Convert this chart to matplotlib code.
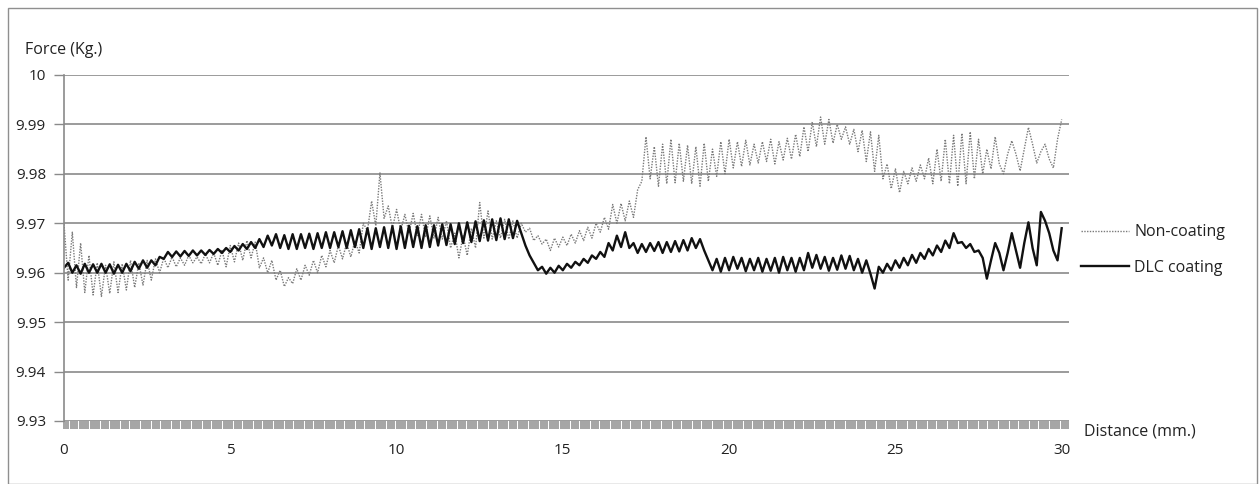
import numpy as np
import matplotlib.pyplot as plt
from matplotlib.ticker import MultipleLocator
from matplotlib.patches import Rectangle

plt.rcParams['font.family'] = ['Open Sans', 'DejaVu Sans']

# distance readings every 0.125 mm, 0 .. 30 mm
distance = np.arange(241) * 0.125

# DLC coating, force in kg (one row per mm)
dlc = [
    9.9610, 9.9620, 9.9600, 9.9615, 9.9598, 9.9618, 9.9600, 9.9617,
    9.9600, 9.9618, 9.9600, 9.9617, 9.9598, 9.9616, 9.9600, 9.9618,
    9.9603, 9.9622, 9.9608, 9.9625, 9.9610, 9.9625, 9.9615, 9.9632,
    9.9628, 9.9642, 9.9632, 9.9643, 9.9633, 9.9644, 9.9634, 9.9645,
    9.9635, 9.9645, 9.9636, 9.9646, 9.9638, 9.9648, 9.9640, 9.9650,
    9.9642, 9.9654, 9.9645, 9.9658, 9.9648, 9.9662, 9.9650, 9.9668,
    9.9652, 9.9675, 9.9655, 9.9678, 9.9650, 9.9676, 9.9648, 9.9678,
    9.9648, 9.9678, 9.9650, 9.9679, 9.9648, 9.9680, 9.9650, 9.9682,
    9.9650, 9.9682, 9.9652, 9.9684, 9.9650, 9.9686, 9.9652, 9.9688,
    9.9650, 9.9690, 9.9648, 9.9690, 9.9652, 9.9692, 9.9650, 9.9694,
    9.9648, 9.9694, 9.9650, 9.9695, 9.9652, 9.9694, 9.9650, 9.9696,
    9.9652, 9.9696, 9.9655, 9.9698, 9.9656, 9.9698, 9.9658, 9.9700,
    9.9660, 9.9702, 9.9662, 9.9704, 9.9664, 9.9706, 9.9665, 9.9708,
    9.9666, 9.9710, 9.9668, 9.9708, 9.9670, 9.9705, 9.9680, 9.9655,
    9.9635, 9.9620, 9.9605, 9.9612, 9.9598, 9.9610, 9.9600, 9.9614,
    9.9605, 9.9618, 9.9610, 9.9622, 9.9615, 9.9628, 9.9620, 9.9635,
    9.9628, 9.9642, 9.9632, 9.9660, 9.9645, 9.9675, 9.9652, 9.9682,
    9.9650, 9.9660, 9.9640, 9.9658, 9.9642, 9.9660, 9.9644, 9.9662,
    9.9640, 9.9662, 9.9642, 9.9664, 9.9643, 9.9666, 9.9645, 9.9670,
    9.9650, 9.9668, 9.9645, 9.9625, 9.9605, 9.9628, 9.9602, 9.9630,
    9.9605, 9.9632, 9.9608, 9.9630, 9.9603, 9.9628, 9.9605, 9.9630,
    9.9602, 9.9628, 9.9604, 9.9630, 9.9600, 9.9632, 9.9605, 9.9630,
    9.9602, 9.9630, 9.9605, 9.9640, 9.9610, 9.9636, 9.9608, 9.9632,
    9.9604, 9.9630, 9.9606, 9.9635, 9.9608, 9.9634, 9.9605, 9.9628,
    9.9600, 9.9625, 9.9598, 9.9568, 9.9612, 9.9600, 9.9618, 9.9605,
    9.9625, 9.9610, 9.9630, 9.9615, 9.9636, 9.9620, 9.9640, 9.9628,
    9.9648, 9.9635, 9.9655, 9.9642, 9.9665, 9.9650, 9.9680, 9.9660,
    9.9662, 9.9650, 9.9658, 9.9642, 9.9645, 9.9630, 9.9588, 9.9625,
    9.9660, 9.9640, 9.9605, 9.9640, 9.9680, 9.9645, 9.9610, 9.9660,
    9.9702, 9.9650, 9.9615, 9.9723, 9.9705, 9.9680, 9.9645, 9.9625,
    9.9690,
]

# Non-coating, force in kg (one row per mm)
non_coating = [
    9.9698, 9.9585, 9.9682, 9.9570, 9.9660, 9.9560, 9.9635, 9.9555,
    9.9620, 9.9552, 9.9615, 9.9558, 9.9622, 9.9560, 9.9618, 9.9565,
    9.9625, 9.9570, 9.9620, 9.9575, 9.9625, 9.9585, 9.9628, 9.9600,
    9.9630, 9.9610, 9.9632, 9.9612, 9.9630, 9.9615, 9.9635, 9.9620,
    9.9632, 9.9618, 9.9638, 9.9620, 9.9640, 9.9615, 9.9645, 9.9612,
    9.9655, 9.9622, 9.9660, 9.9625, 9.9665, 9.9630, 9.9662, 9.9610,
    9.9630, 9.9600, 9.9625, 9.9585, 9.9605, 9.9572, 9.9590, 9.9578,
    9.9608, 9.9585, 9.9615, 9.9595, 9.9625, 9.9600, 9.9635, 9.9612,
    9.9645, 9.9620, 9.9655, 9.9628, 9.9660, 9.9632, 9.9665, 9.9640,
    9.9700, 9.9685, 9.9745, 9.9695, 9.9802, 9.9710, 9.9735, 9.9690,
    9.9728, 9.9685, 9.9718, 9.9680, 9.9720, 9.9675, 9.9718, 9.9672,
    9.9715, 9.9670, 9.9712, 9.9668, 9.9705, 9.9650, 9.9680, 9.9630,
    9.9675, 9.9635, 9.9690, 9.9650, 9.9742, 9.9670, 9.9725, 9.9668,
    9.9705, 9.9670, 9.9708, 9.9668, 9.9705, 9.9670, 9.9700, 9.9682,
    9.9690, 9.9665, 9.9675, 9.9658, 9.9668, 9.9645, 9.9670, 9.9652,
    9.9672, 9.9655, 9.9678, 9.9660, 9.9685, 9.9665, 9.9692, 9.9670,
    9.9700, 9.9682, 9.9712, 9.9688, 9.9738, 9.9700, 9.9740, 9.9705,
    9.9745, 9.9712, 9.9768, 9.9785, 9.9875, 9.9790, 9.9855, 9.9775,
    9.9860, 9.9780, 9.9870, 9.9782, 9.9862, 9.9785, 9.9858, 9.9780,
    9.9855, 9.9775, 9.9862, 9.9785, 9.9850, 9.9795, 9.9865, 9.9800,
    9.9870, 9.9812, 9.9865, 9.9815, 9.9868, 9.9818, 9.9860, 9.9822,
    9.9865, 9.9825, 9.9870, 9.9820, 9.9865, 9.9828, 9.9872, 9.9830,
    9.9880, 9.9835, 9.9895, 9.9845, 9.9905, 9.9855, 9.9915, 9.9860,
    9.9910, 9.9862, 9.9900, 9.9870, 9.9895, 9.9860, 9.9890, 9.9845,
    9.9888, 9.9825, 9.9885, 9.9805, 9.9878, 9.9790, 9.9820, 9.9770,
    9.9810, 9.9762, 9.9805, 9.9780, 9.9812, 9.9785, 9.9818, 9.9790,
    9.9832, 9.9780, 9.9850, 9.9785, 9.9870, 9.9780, 9.9878, 9.9775,
    9.9882, 9.9780, 9.9885, 9.9790, 9.9870, 9.9800, 9.9850, 9.9810,
    9.9875, 9.9820, 9.9800, 9.9840, 9.9867, 9.9840, 9.9806, 9.9850,
    9.9894, 9.9860, 9.9822, 9.9845, 9.9860, 9.9830, 9.9812, 9.9870,
    9.9910,
]

y_ticks = [9.93, 9.94, 9.95, 9.96, 9.97, 9.98, 9.99, 10.0]
y_labels = ['9.93', '9.94', '9.95', '9.96', '9.97', '9.98', '9.99', '10']

grid_col = '#8a8a8a'
text_col = '#222222'

fig = plt.figure(figsize=(12.6, 4.84), dpi=100)
fig.patches.append(Rectangle((8 / 1260, 0), 1249 / 1260, 476 / 484, transform=fig.transFigure,
                             fill=False, edgecolor='#8f8f8f', lw=1))
ax = fig.add_axes([64 / 1260, 1 - 421 / 484, 1005 / 1260, 346 / 484])

ax.plot(distance, non_coating, color='#7a7a7a', lw=1.0, linestyle=(0, (1, 1)), label='Non-coating')
ax.plot(distance, dlc, color='#111111', lw=1.7, label='DLC coating')

ax.set_xlim(0, 30.22)
ax.set_ylim(9.93, 10.0)
ax.set_yticks(y_ticks)
ax.set_yticklabels(y_labels)
ax.grid(axis='y', color=grid_col, lw=1.2)
ax.set_axisbelow(True)

ax.xaxis.set_major_locator(MultipleLocator(5))
ax.xaxis.set_minor_locator(MultipleLocator(1 / 15))
ax.tick_params(axis='x', which='both', direction='out', length=6, width=1.1, color='#8c8c8c',
               labelsize=11, pad=10, labelcolor=text_col)
ax.tick_params(axis='y', direction='out', length=7, width=1, color=grid_col,
               labelsize=11, labelcolor=text_col, pad=6)

for s in ['top', 'right', 'bottom']:
    ax.spines[s].set_visible(False)
ax.spines['left'].set_color(grid_col)
ax.spines['left'].set_linewidth(1.2)

fig.text(25 / 1260, 1 - 50 / 484, 'Force (Kg.)', fontsize=11.5, color=text_col, va='center', ha='left')
fig.text(1084 / 1260, 1 - 432 / 484, 'Distance (mm.)', fontsize=11.5, color=text_col, va='center', ha='left')

fig.legend(loc='center left', bbox_to_anchor=(1067 / 1260, 1 - 250 / 484), frameon=False,
           fontsize=11.5, handlelength=3.0, handletextpad=0.3, labelspacing=1.2, labelcolor=text_col)

fig.savefig('out.png', dpi=100)
